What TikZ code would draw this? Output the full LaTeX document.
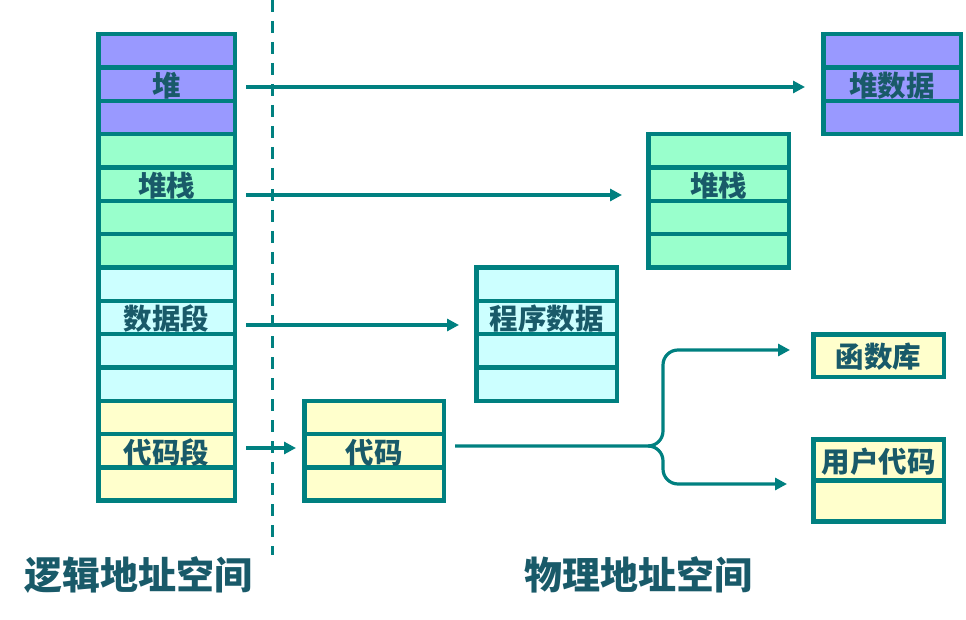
\documentclass[tikz,border=0pt]{standalone}
\usepackage{fontspec}
\usetikzlibrary{arrows.meta}
\newfontfamily\cjk{Noto Sans CJK SC}
\definecolor{teal0}{RGB}{0,128,128}
\definecolor{ink}{RGB}{25,90,105}
\definecolor{heapc}{HTML}{9999FF}
\definecolor{stackc}{HTML}{99FFCC}
\definecolor{datac}{HTML}{CCFFFF}
\definecolor{codec}{HTML}{FFFFCC}
\def\rt{34.25}
\def\rh{33.32}

\begin{document}
\begin{tikzpicture}[x=1pt,y=-1pt,
  cell/.style={draw=teal0,line width=4.5pt,inner sep=0pt,minimum height=33.32pt},
  lab/.style={text=ink,font=\cjk\bfseries\fontsize{28.5}{30}\selectfont,inner sep=0pt,yshift=-1.5pt},
  title/.style={text=ink,font=\cjk\bfseries\fontsize{38}{40}\selectfont,inner sep=0pt},
  link/.style={draw=teal0,line width=3.2pt,-{Triangle[length=12pt,width=12pt]}}]
\useasboundingbox (0,0) rectangle (966,620);

% logical address space
\foreach \i/\c in {1/heapc,2/heapc,3/heapc,4/stackc,5/stackc,6/stackc,7/stackc,
                   8/datac,9/datac,10/datac,11/datac,12/codec,13/codec,14/codec}
  \node[cell,fill=\c,minimum width=136.5pt] (L\i) at (166.5,{\rt+\rh*(\i-0.5)}) {};
\node[lab] (tL2) at (L2) {堆};
\node[lab] (tL5) at (L5) {堆栈};
\node[lab] (tL9) at (L9) {数据段};
\node[lab] (tL13) at (L13) {代码段};

% physical blocks
\foreach \i in {1,2,3}
  \node[cell,fill=heapc,minimum width=137.5pt] (H\i) at (892,{\rt+\rh*(\i-0.5)}) {};
\foreach \i in {1,...,4}
  \node[cell,fill=stackc,minimum width=140.5pt] (S\i) at (718.5,{\rt+\rh*(\i+2.5)}) {};
\foreach \i in {1,...,4}
  \node[cell,fill=datac,minimum width=140.5pt] (D\i) at (546.5,{\rt+\rh*(\i+6.5)}) {};
\foreach \i in {1,2,3}
  \node[cell,fill=codec,minimum width=139.5pt] (C\i) at (374,{\rt+\rh*(\i+10.5)}) {};
\node[cell,fill=codec,minimum width=130.5pt,minimum height=42.5pt] (F) at (878.5,355.5) {};
\node[cell,fill=codec,minimum width=130.5pt,minimum height=41.25pt] (U1) at (878.5,459.9) {};
\node[cell,fill=codec,minimum width=130.5pt,minimum height=41.25pt] (U2) at (878.5,501.1) {};
\node[lab] (tH2) at (H2) {堆数据};
\node[lab] (tS2) at (S2) {堆栈};
\node[lab] (tD2) at (D2) {程序数据};
\node[lab] (tC2) at (C2) {代码};
\node[lab] (tF) at (F) {函数库};
\node[lab] (tU1) at (U1) {用户代码};

% divider
\draw[teal0,line width=3pt,dash pattern=on 12pt off 9pt] (272,0) -- (272,555);

% mapping arrows
\coordinate (a1) at (246,87);  \coordinate (b1) at (805,87);
\coordinate (a2) at (246,195); \coordinate (b2) at (622,195);
\coordinate (a3) at (246,325); \coordinate (b3) at (459,325);
\coordinate (a4) at (246,448); \coordinate (b4) at (296,448);
\draw[link] (a1) -- (b1);
\draw[link] (a2) -- (b2);
\draw[link] (a3) -- (b3);
\draw[link] (a4) -- (b4);

% code split
\coordinate (a5) at (455,446);
\coordinate (fork) at (648,446);
\draw[link] (a5) -- (fork) to[out=0,in=-90] (663,431) -- (663,365)
  to[out=90,in=180] (678,350) -- (790,350);
\draw[link] (fork) to[out=0,in=90] (663,461) -- (663,469)
  to[out=-90,in=180] (678,484) -- (787,484);

\node[title] (logic) at (138,575) {逻辑地址空间};
\node[title] (phys) at (638,575) {物理地址空间};
\end{tikzpicture}
\end{document}
